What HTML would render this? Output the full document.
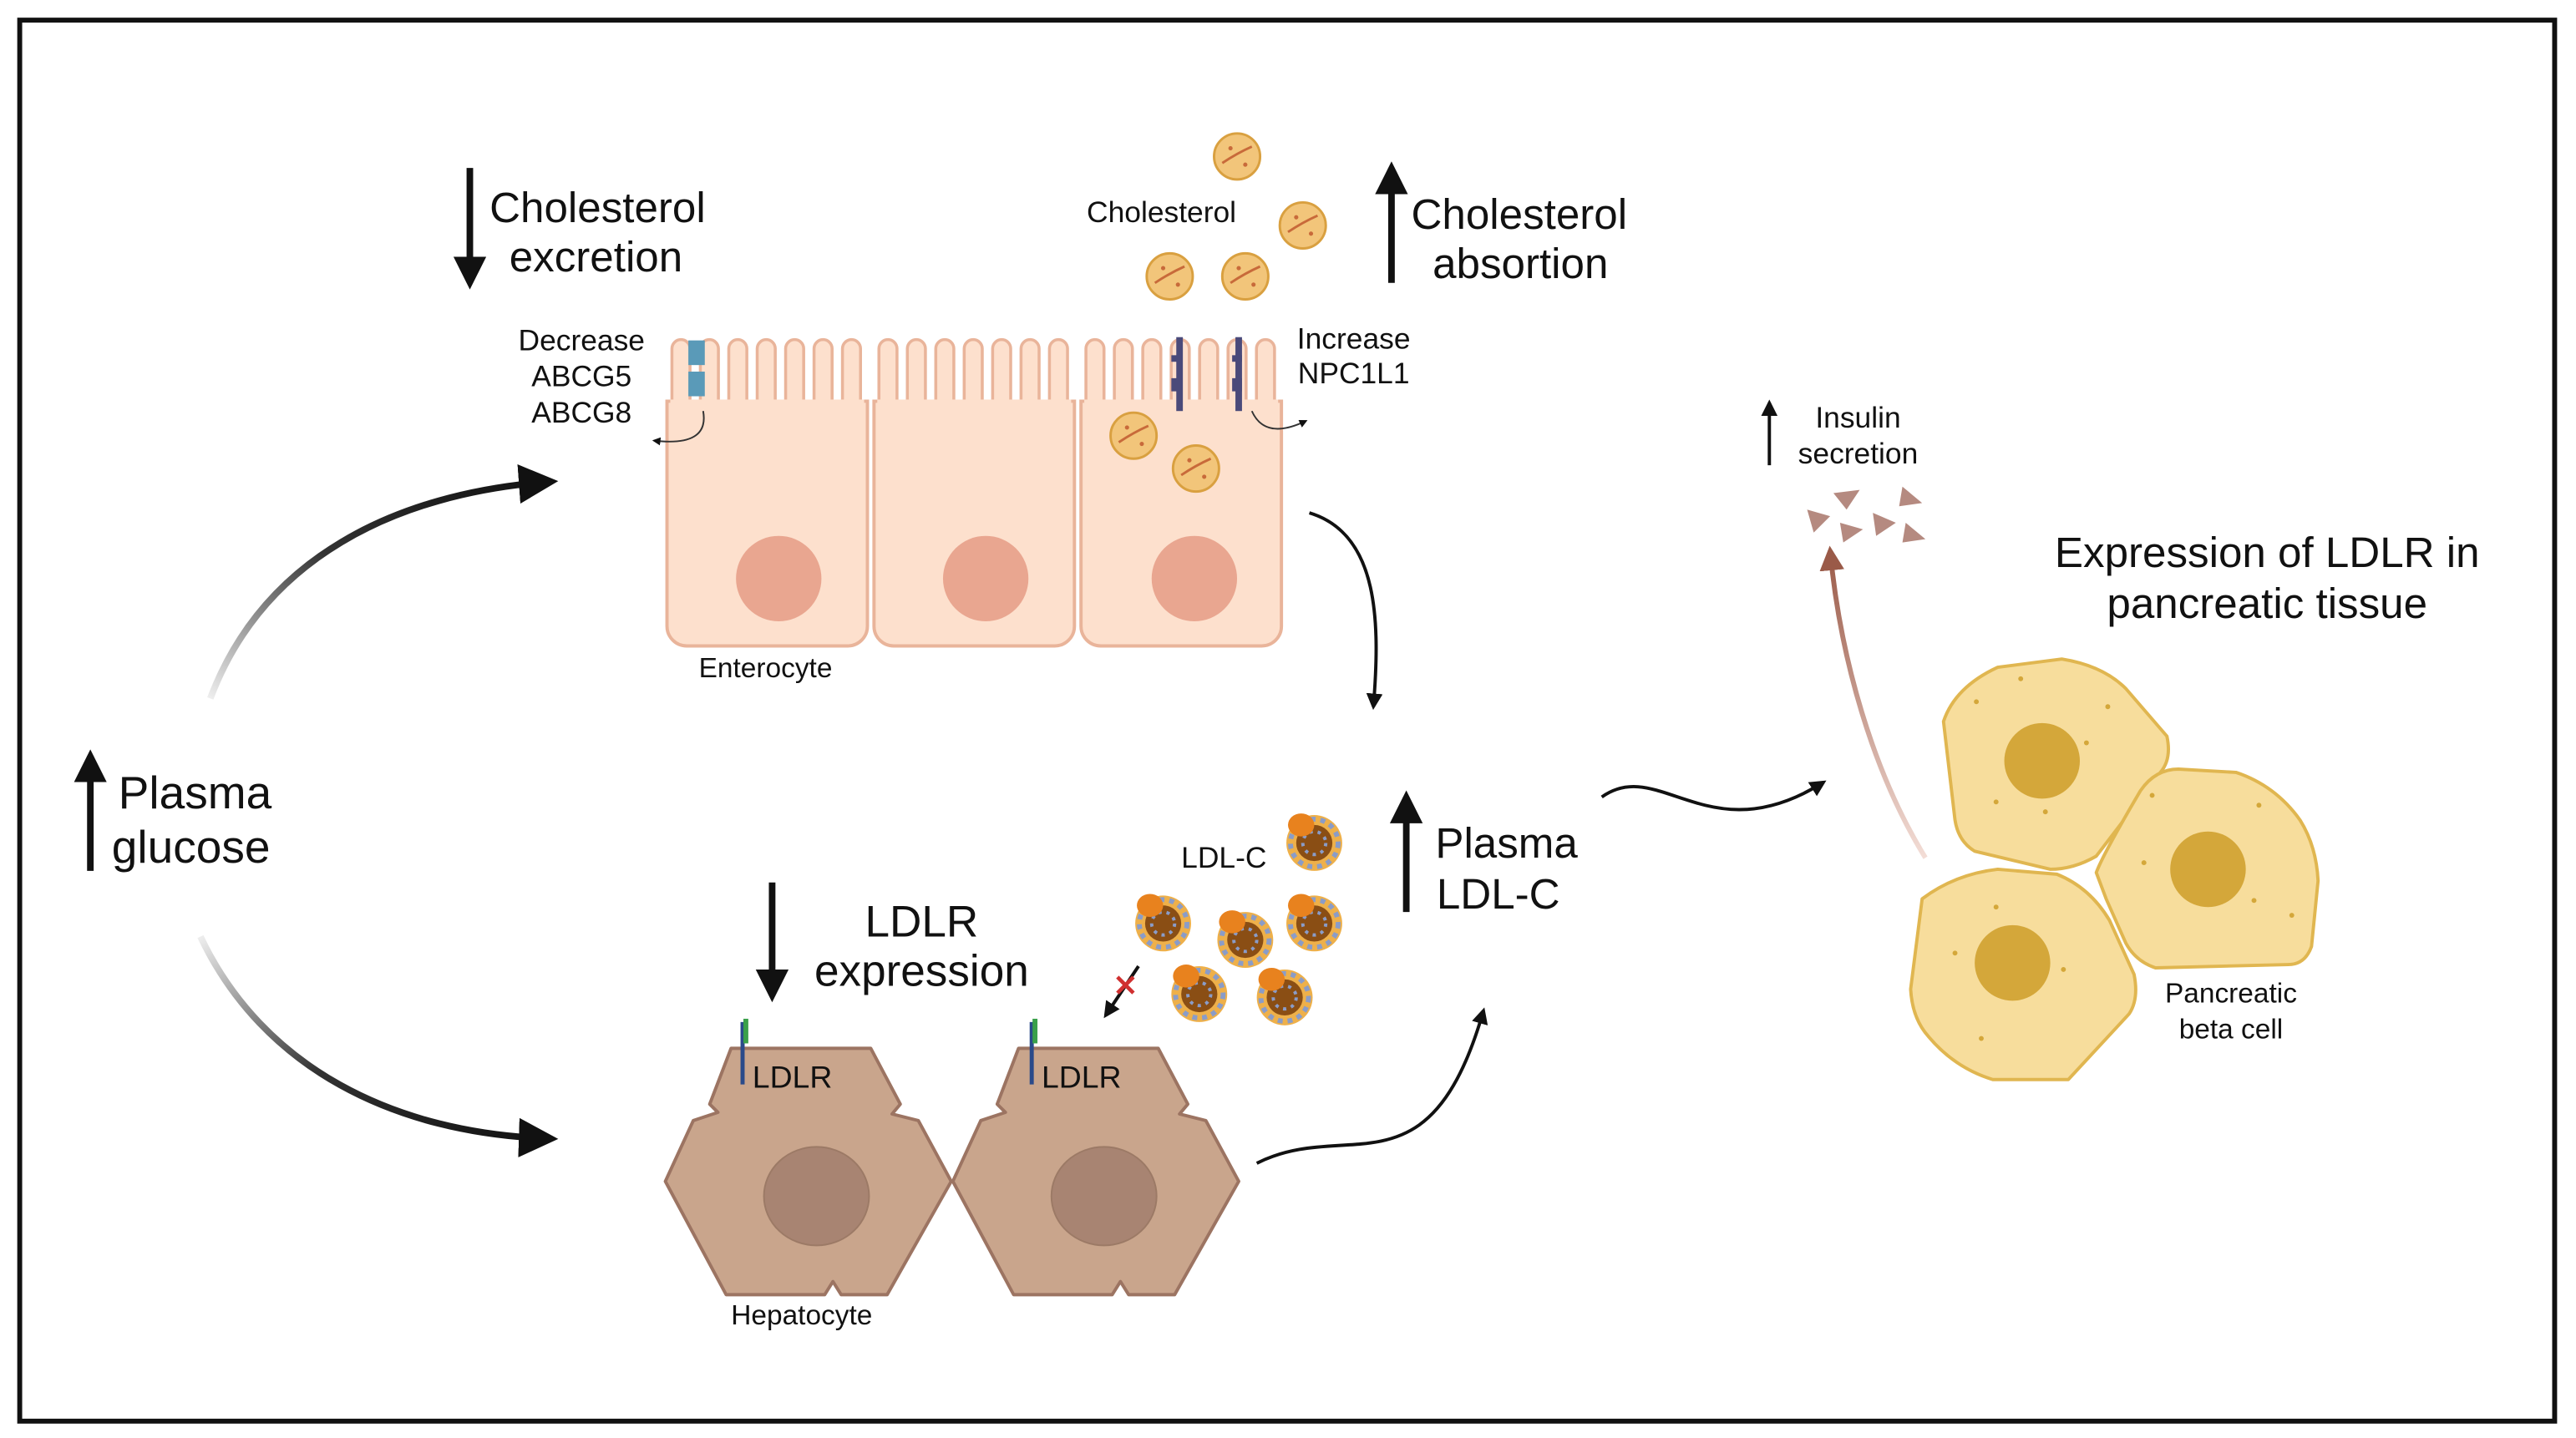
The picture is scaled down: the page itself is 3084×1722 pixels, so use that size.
<!DOCTYPE html>
<html><head><meta charset="utf-8"><style>
html,body{margin:0;padding:0;background:#fff;}
svg{display:block;}
text{font-family:"Liberation Sans",sans-serif;fill:#111;}
</style></head><body>
<svg width="3084" height="1722" viewBox="0 0 1568 875" xmlns="http://www.w3.org/2000/svg">
<defs>
<marker id="ah" viewBox="0 0 10 10" refX="8" refY="5" markerWidth="5" markerHeight="5" orient="auto"><path d="M0,0 L10,5 L0,10 z" fill="#111"/></marker>
<marker id="ahs" viewBox="0 0 10 10" refX="8" refY="5" markerWidth="6" markerHeight="6" orient="auto"><path d="M0,0 L10,5 L0,10 z" fill="#111"/></marker>
<marker id="ahb" viewBox="0 0 10 10" refX="8" refY="5" markerWidth="5" markerHeight="5" orient="auto"><path d="M0,0 L10,5 L0,10 z" fill="#9a5a48"/></marker>
<linearGradient id="g1" x1="0" y1="1" x2="1" y2="0"><stop offset="0" stop-color="#eee"/><stop offset="0.5" stop-color="#333"/><stop offset="1" stop-color="#111"/></linearGradient>
<linearGradient id="g2" x1="0" y1="0" x2="1" y2="1"><stop offset="0" stop-color="#eee"/><stop offset="0.5" stop-color="#333"/><stop offset="1" stop-color="#111"/></linearGradient>
<linearGradient id="g3" x1="0" y1="1" x2="0" y2="0"><stop offset="0" stop-color="#f3ddd6"/><stop offset="1" stop-color="#9a5a48"/></linearGradient>
<g id="chol"><circle r="14" fill="#f2c57a" stroke="#d9a040" stroke-width="1.5"/><path d="M-9,4 Q0,-2 9,-6" stroke="#c86a3a" stroke-width="1.5" fill="none"/><circle cx="-4" cy="-5" r="1.3" fill="#c86a3a"/><circle cx="5" cy="5" r="1.3" fill="#c86a3a"/></g>
<g id="ldl"><circle r="17" fill="#eeb04a"/><circle r="14.5" fill="none" stroke="#8a9cc8" stroke-width="3" stroke-dasharray="3 3"/><circle r="11" fill="#8a4e14"/><circle r="7" fill="none" stroke="#8a9cc8" stroke-width="2" stroke-dasharray="2 3"/><ellipse cx="-8" cy="-11" rx="8" ry="7" fill="#e8821e"/></g>
<g id="fingers" fill="#fde0cd" stroke="#e9b49a" stroke-width="1.8">
<path d="M3,46 V12 a5.5,5.5 0 0 1 11,0 V46"/><path d="M20.3,46 V12 a5.5,5.5 0 0 1 11,0 V46"/><path d="M37.6,46 V12 a5.5,5.5 0 0 1 11,0 V46"/><path d="M54.9,46 V12 a5.5,5.5 0 0 1 11,0 V46"/><path d="M72.2,46 V12 a5.5,5.5 0 0 1 11,0 V46"/><path d="M89.5,46 V12 a5.5,5.5 0 0 1 11,0 V46"/><path d="M106.8,46 V12 a5.5,5.5 0 0 1 11,0 V46"/>
</g>
<polygon id="hep" points="445,638 530,638 548,672 543,678 559,682 579,719 540,788 512,788 507,780 502,788 442,788 405,719 422,682 437,677 432,672"/>
</defs>
<rect x="12" y="12" width="1543" height="853" fill="#fff" stroke="#111" stroke-width="3"/>

<!-- Enterocytes -->
<g fill="#fde0cd" stroke="#e9b49a" stroke-width="2">
<path d="M406,244 H528 V381 a12,12 0 0 1 -12,12 H418 a12,12 0 0 1 -12,-12 Z"/>
<path d="M532,244 H654 V381 a12,12 0 0 1 -12,12 H544 a12,12 0 0 1 -12,-12 Z"/>
<path d="M658,244 H780 V381 a12,12 0 0 1 -12,12 H670 a12,12 0 0 1 -12,-12 Z"/>
</g>
<use href="#fingers" x="406" y="200"/><use href="#fingers" x="532" y="200"/><use href="#fingers" x="658" y="200"/>
<g fill="#fde0cd"><rect x="408" y="243" width="118" height="4"/><rect x="534" y="243" width="118" height="4"/><rect x="660" y="243" width="118" height="4"/></g>
<g fill="#e9a690"><circle cx="474" cy="352" r="26"/><circle cx="600" cy="352" r="26"/><circle cx="727" cy="352" r="26"/></g>
<g fill="#5a9ab8"><rect x="419" y="207" width="10" height="15"/><rect x="419" y="226" width="10" height="15"/></g>
<g fill="#4a4a7a"><rect x="716" y="205" width="4" height="45"/><rect x="752" y="205" width="4" height="45"/><rect x="713" y="216" width="6" height="4"/><rect x="713" y="230" width="6" height="8"/><rect x="750" y="216" width="6" height="4"/><rect x="750" y="230" width="6" height="8"/></g>
<path d="M428,250 Q432,272 398,268" fill="none" stroke="#333" stroke-width="1" marker-end="url(#ah)"/>
<path d="M762,250 Q770,268 795,256" fill="none" stroke="#333" stroke-width="1" marker-end="url(#ah)"/>

<use href="#chol" x="753" y="95"/><use href="#chol" x="793" y="137"/><use href="#chol" x="712" y="168"/><use href="#chol" x="758" y="168"/><use href="#chol" x="690" y="265"/><use href="#chol" x="728" y="285"/>

<line x1="286" y1="102" x2="286" y2="172" stroke="#111" stroke-width="4" marker-end="url(#ah)"/>
<text x="298" y="135" font-size="26">Cholesterol</text><text x="310" y="165" font-size="26">excretion</text>
<line x1="847" y1="172" x2="847" y2="102" stroke="#111" stroke-width="4" marker-end="url(#ah)"/>
<text x="859" y="139" font-size="26">Cholesterol</text><text x="872" y="169" font-size="26">absortion</text>
<text x="707" y="135" font-size="18" text-anchor="middle">Cholesterol</text>
<g font-size="18" text-anchor="middle"><text x="354" y="213">Decrease</text><text x="354" y="235">ABCG5</text><text x="354" y="257">ABCG8</text>
<text x="824" y="212">Increase</text><text x="824" y="233">NPC1L1</text></g>
<text x="466" y="412" font-size="17" text-anchor="middle">Enterocyte</text>
<path d="M797,312 C840,325 840,380 836,430" fill="none" stroke="#111" stroke-width="2" marker-end="url(#ah)"/>

<!-- Plasma glucose -->
<line x1="55" y1="530" x2="55" y2="460" stroke="#111" stroke-width="4" marker-end="url(#ah)"/>
<text x="72" y="492" font-size="28">Plasma</text><text x="68" y="525" font-size="28">glucose</text>
<path d="M128,425 C160,340 240,300 335,293" fill="none" stroke="url(#g1)" stroke-width="4" marker-end="url(#ahs)"/>
<path d="M122,570 C160,650 240,690 335,693" fill="none" stroke="url(#g2)" stroke-width="4" marker-end="url(#ahs)"/>

<!-- Hepatocytes -->
<g fill="#c9a58c" stroke="#9c7462" stroke-width="2" stroke-linejoin="round">
<use href="#hep"/><use href="#hep" x="175"/>
</g>
<g fill="#a88472" stroke="#9c7a66" stroke-width="1"><ellipse cx="497" cy="728" rx="32" ry="30"/><ellipse cx="672" cy="728" rx="32" ry="30"/></g>
<g stroke="#2a4a8a" stroke-width="2.5"><line x1="452" y1="622" x2="452" y2="660"/><line x1="628" y1="622" x2="628" y2="660"/></g>
<g stroke="#3aa04a" stroke-width="3"><line x1="454" y1="620" x2="454" y2="635"/><line x1="630" y1="620" x2="630" y2="635"/></g>
<text x="458" y="662" font-size="19">LDLR</text><text x="634" y="662" font-size="19">LDLR</text>
<text x="488" y="806" font-size="17" text-anchor="middle">Hepatocyte</text>
<line x1="470" y1="537" x2="470" y2="606" stroke="#111" stroke-width="4" marker-end="url(#ah)"/>
<text x="561" y="570" font-size="27" text-anchor="middle">LDLR</text><text x="561" y="600" font-size="27" text-anchor="middle">expression</text>

<use href="#ldl" x="800" y="513"/><use href="#ldl" x="708" y="562"/><use href="#ldl" x="758" y="572"/><use href="#ldl" x="800" y="562"/><use href="#ldl" x="730" y="605"/><use href="#ldl" x="782" y="607"/>
<text x="745" y="528" font-size="18" text-anchor="middle">LDL-C</text>
<line x1="693" y1="588" x2="673" y2="618" stroke="#111" stroke-width="2" marker-end="url(#ah)"/>
<text x="685" y="606" font-size="18" text-anchor="middle" style="fill:#d03030;font-weight:bold">✕</text>

<line x1="856" y1="555" x2="856" y2="485" stroke="#111" stroke-width="4" marker-end="url(#ah)"/>
<text x="917" y="522" font-size="26" text-anchor="middle">Plasma</text><text x="912" y="553" font-size="26" text-anchor="middle">LDL-C</text>
<path d="M765,708 C820,680 870,730 903,615" fill="none" stroke="#111" stroke-width="2" marker-end="url(#ah)"/>
<path d="M975,485 C1010,460 1040,520 1110,476" fill="none" stroke="#111" stroke-width="2" marker-end="url(#ah)"/>

<!-- Insulin -->
<line x1="1077" y1="283" x2="1077" y2="245" stroke="#111" stroke-width="2" marker-end="url(#ah)"/>
<text x="1131" y="260" font-size="18" text-anchor="middle">Insulin</text><text x="1131" y="282" font-size="18" text-anchor="middle">secretion</text>
<g fill="#b58a80"><polygon points="1116,300 1132,298 1124,310"/><polygon points="1158,296 1170,306 1156,308"/><polygon points="1100,310 1114,314 1104,324"/><polygon points="1120,318 1134,322 1122,330"/><polygon points="1140,312 1154,318 1142,326"/><polygon points="1160,318 1172,328 1158,330"/></g>
<path d="M1172,522 C1140,470 1120,400 1114,335" fill="none" stroke="url(#g3)" stroke-width="3" marker-end="url(#ahb)"/>
<text x="1380" y="345" font-size="26" text-anchor="middle">Expression of LDLR in</text><text x="1380" y="376" font-size="26" text-anchor="middle">pancreatic tissue</text>

<g fill="#f7dd9c" stroke="#e0b650" stroke-width="2" stroke-linejoin="round">
<path d="M1183,439 Q1190,418 1216,406 L1255,401 Q1280,405 1294,419 L1319,448 Q1322,462 1315,470 L1276,521 Q1262,529 1248,529 L1202,518 Q1192,512 1190,499 Z"/>
<path d="M1276,531 Q1280,520 1303,481 Q1312,468 1326,468 L1361,470 Q1385,478 1400,499 Q1410,515 1411,536 L1407,576 Q1403,587 1393,587 L1312,589 Q1300,585 1294,574 L1282,547 Z"/>
<path d="M1170,547 Q1190,532 1216,529 L1252,532 Q1272,540 1284,560 L1299,593 Q1302,608 1296,617 L1259,657 L1213,657 Q1190,650 1174,631 Q1164,620 1163,602 Z"/>
</g>
<g fill="#d4a73a"><circle cx="1243" cy="463" r="23"/><circle cx="1344" cy="529" r="23"/><circle cx="1225" cy="586" r="23"/></g>
<g fill="#d4a73a"><circle cx="1203" cy="427" r="1.5"/><circle cx="1230" cy="413" r="1.5"/><circle cx="1283" cy="430" r="1.5"/><circle cx="1270" cy="452" r="1.5"/><circle cx="1215" cy="488" r="1.5"/><circle cx="1245" cy="494" r="1.5"/><circle cx="1310" cy="484" r="1.5"/><circle cx="1375" cy="490" r="1.5"/><circle cx="1305" cy="525" r="1.5"/><circle cx="1372" cy="548" r="1.5"/><circle cx="1395" cy="557" r="1.5"/><circle cx="1190" cy="580" r="1.5"/><circle cx="1256" cy="590" r="1.5"/><circle cx="1215" cy="552" r="1.5"/><circle cx="1206" cy="632" r="1.5"/></g>
<text x="1358" y="610" font-size="17" text-anchor="middle">Pancreatic</text><text x="1358" y="632" font-size="17" text-anchor="middle">beta cell</text>
</svg>
</body></html>
